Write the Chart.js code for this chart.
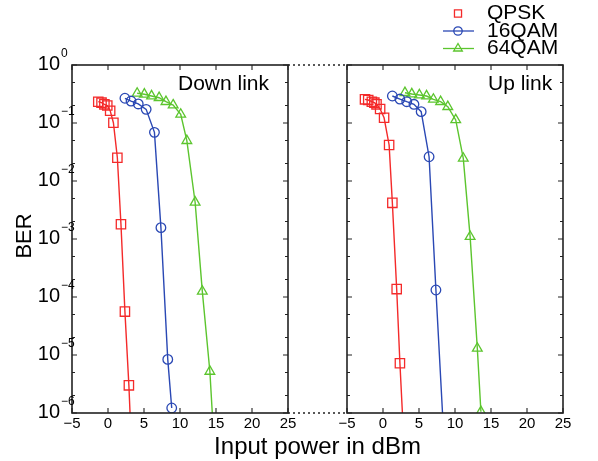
<!DOCTYPE html>
<html>
<head>
<meta charset="UTF-8">
<title>BER vs input power</title>
<script src="https://cdn.jsdelivr.net/npm/chart.js"></script>
<style>
  body { margin: 0; background: #fff; }
  #wrap { position: relative; width: 598px; height: 461px; }
  #wrap canvas { position: absolute; left: 0; top: 0; }
</style>
</head>
<body>
<div id="wrap">
  <canvas id="downChart" width="598" height="461"></canvas>
  <canvas id="upChart" width="598" height="461"></canvas>
</div>
<script>
const seriesNames = ['QPSK', '16QAM', '64QAM'];
const seriesColors = ['#f42a2a', '#2a48b4', '#5cc52e'];
const seriesMarkers = ['rect', 'circle', 'triangle'];
const markerSizes = [6.6, 4.8, 5.6];
const legendLines = [false, true, true];

// x axis ticks (dBm) and BER decades
const xTicks = [-5, 0, 5, 10, 15, 20, 25];
const berDecades = [-6, -5, -4, -3, -2, -1, 0];
const minorSteps = [2, 5];

// down link
const downQpskX   = [-1.35, -0.9, -0.5, -0.1, 0.3, 0.75, 1.3, 1.8, 2.35, 2.9, 3.4];
const downQpskBer = [0.233, 0.224, 0.21, 0.2, 0.163, 0.101, 0.0252, 1.8e-3, 5.6e-5, 3.0e-6, 1e-7];
const down16X     = [2.35, 3.2, 4.2, 5.3, 6.45, 7.35, 8.3, 8.85];
const down16Ber   = [0.267, 0.239, 0.213, 0.172, 0.069, 1.57e-3, 8.4e-6, 1.22e-6];
const down64X     = [4.05, 5.05, 6.05, 7.1, 8.05, 9.05, 10.1, 10.95, 12.1, 13.1, 14.15, 14.95];
const down64Ber   = [0.325, 0.313, 0.292, 0.273, 0.233, 0.204, 0.141, 0.0495, 4.3e-3, 1.25e-4, 5.2e-6, 1e-7];

// up link
const upQpskX   = [-2.5, -2.05, -1.55, -1.2, -0.9, -0.4, 0.15, 0.85, 1.3, 1.9, 2.35, 3.1];
const upQpskBer = [0.256, 0.249, 0.233, 0.224, 0.21, 0.174, 0.123, 0.0418, 4.2e-3, 1.37e-4, 7.2e-6, 1e-7];
const up16X     = [1.3, 2.35, 3.3, 4.3, 5.3, 6.4, 7.35, 8.7];
const up16Ber   = [0.292, 0.259, 0.233, 0.21, 0.157, 0.0262, 1.32e-4, 1e-7];
const up64X     = [3.05, 4.0, 5.05, 6.05, 7.0, 8.0, 9.0, 10.1, 11.15, 12.1, 13.1, 13.6];
const up64Ber   = [0.333, 0.316, 0.304, 0.292, 0.256, 0.233, 0.191, 0.113, 0.0246, 1.1e-3, 1.3e-5, 1.05e-6];

const FONT = '"Liberation Sans", Arial, Helvetica, sans-serif';
Chart.defaults.font.family = FONT;
Chart.defaults.color = '#000';

// panel placement inside the 598x461 page
const PLOT_TOP = 65;
const AXIS_H = 48;
const DOWN_LEFT = 72, DOWN_PAD_RIGHT = 310;
const UP_PAD_LEFT = 347, UP_PAD_RIGHT = 35;

function pts(xs, ys) {
  return xs.map((x, i) => ({ x: x, y: ys[i] }));
}

function makeDatasets(groups) {
  return groups.map((g, i) => ({
    label: seriesNames[i],
    data: pts(g[0], g[1]),
    borderColor: seriesColors[i],
    borderWidth: 1.4,
    pointStyle: seriesMarkers[i],
    pointRadius: markerSizes[i],
    pointBorderColor: seriesColors[i],
    pointBackgroundColor: 'rgba(0,0,0,0)',
    pointBorderWidth: 1.3,
    tension: 0,
    fill: false
  }));
}

const framePlugin = {
  id: 'frame',
  afterDatasetsDraw(chart, args, opts) {
    const ctx = chart.ctx, a = chart.chartArea;
    const x = chart.scales.x, y = chart.scales.y;
    ctx.save();
    ctx.strokeStyle = '#222';
    ctx.lineWidth = 1.1;
    ctx.beginPath();
    x.ticks.forEach(t => {
      const px = x.getPixelForValue(t.value);
      ctx.moveTo(px, a.bottom); ctx.lineTo(px, a.bottom - 5);
      ctx.moveTo(px, a.top); ctx.lineTo(px, a.top + 5);
    });
    y.ticks.forEach(t => {
      const py = y.getPixelForValue(t.value);
      const len = t.decade ? 5 : 3;
      ctx.moveTo(a.left, py); ctx.lineTo(a.left + len, py);
      ctx.moveTo(a.right, py); ctx.lineTo(a.right - len, py);
    });
    ctx.stroke();
    ctx.lineWidth = 1.6;
    ctx.strokeRect(a.left, a.top, a.width, a.height);

    ctx.fillStyle = '#000';
    ctx.textBaseline = 'middle';
    ctx.textAlign = 'left';
    ctx.font = '21px ' + FONT;
    ctx.fillText(opts.label, a.left + opts.labelOffset, a.top + 19);

    if (opts.yLabels) {
      berDecades.forEach(k => {
        const py = y.getPixelForValue(Math.pow(10, k));
        ctx.font = '20px ' + FONT;
        ctx.textAlign = 'right';
        ctx.fillText('10', a.left - 12, py - 1);
        ctx.font = '12px ' + FONT;
        ctx.textAlign = 'left';
        ctx.fillText(k === 0 ? '0' : '\u2212' + (-k), a.left - 11, py - 11);
      });
      ctx.font = '22px ' + FONT;
      ctx.textAlign = 'center';
      ctx.save();
      ctx.translate(25, (a.top + a.bottom) / 2 - 3);
      ctx.rotate(-Math.PI / 2);
      ctx.fillText('BER', 0, 0);
      ctx.restore();
      ctx.textBaseline = 'alphabetic';
      ctx.font = '24px ' + FONT;
      ctx.fillText('Input power in dBm', (DOWN_LEFT + 598 - UP_PAD_RIGHT) / 2, 454);
      // dotted connectors between the two panels
      ctx.setLineDash([2, 3]);
      ctx.lineWidth = 1.3;
      ctx.beginPath();
      ctx.moveTo(a.right, a.top); ctx.lineTo(UP_PAD_LEFT, a.top);
      ctx.moveTo(a.right, a.bottom); ctx.lineTo(UP_PAD_LEFT, a.bottom);
      ctx.stroke();
      ctx.setLineDash([]);
    }

    if (opts.legend) {
      const rows = [13.5, 31, 48.5];
      chart.data.datasets.forEach((ds, i) => {
        const ly = rows[i];
        ctx.strokeStyle = ds.borderColor;
        ctx.lineWidth = 1.3;
        if (legendLines[i]) {
          ctx.beginPath();
          ctx.moveTo(443, ly); ctx.lineTo(474, ly);
          ctx.stroke();
        }
        ctx.fillStyle = 'rgba(0,0,0,0)';
        Chart.helpers.drawPoint(ctx, {
          pointStyle: ds.pointStyle, radius: i === 0 ? 5 : ds.pointRadius - 0.6,
          rotation: 0, borderWidth: 1.2
        }, 458, ly);
        ctx.fillStyle = '#000';
        ctx.font = '21px ' + FONT;
        ctx.textAlign = 'left';
        ctx.textBaseline = 'middle';
        ctx.fillText(ds.label, 487, ly);
      });
    }
    ctx.restore();
  }
};

function makeChart(id, groups, pad, yWidth, frameOpts) {
  return new Chart(document.getElementById(id), {
    type: 'line',
    data: { datasets: makeDatasets(groups) },
    plugins: [framePlugin],
    options: {
      responsive: false,
      animation: false,
      layout: { padding: pad },
      plugins: {
        legend: { display: false },
        tooltip: { enabled: false },
        frame: frameOpts
      },
      scales: {
        x: {
          type: 'linear',
          min: -5, max: 25,
          grid: { display: false, drawTicks: false },
          border: { display: false },
          afterBuildTicks: s => { s.ticks = xTicks.map(v => ({ value: v })); },
          afterFit: s => { s.height = AXIS_H; },
          ticks: {
            autoSkip: false, maxRotation: 0, padding: 2,
            font: { size: 15 },
            callback: v => (v < 0 ? '\u2212' + (-v) : '' + v)
          }
        },
        y: {
          type: 'logarithmic',
          min: 1e-6, max: 1,
          grid: { display: false, drawTicks: false },
          border: { display: false },
          ticks: { display: false },
          afterBuildTicks: s => {
            const t = [];
            berDecades.forEach(k => {
              t.push({ value: Math.pow(10, k), decade: true });
              if (k < 0) minorSteps.forEach(m => t.push({ value: m * Math.pow(10, k) }));
            });
            s.ticks = t;
          },
          afterFit: s => { s.width = yWidth; }
        }
      }
    }
  });
}

makeChart('downChart',
  [[downQpskX, downQpskBer], [down16X, down16Ber], [down64X, down64Ber]],
  { top: PLOT_TOP, right: DOWN_PAD_RIGHT, left: 0, bottom: 0 }, DOWN_LEFT,
  { label: 'Down link', labelOffset: 106, yLabels: true });

makeChart('upChart',
  [[upQpskX, upQpskBer], [up16X, up16Ber], [up64X, up64Ber]],
  { top: PLOT_TOP, right: UP_PAD_RIGHT, left: UP_PAD_LEFT, bottom: 0 }, 0,
  { label: 'Up link', labelOffset: 141, legend: true });
</script>
</body>
</html>
